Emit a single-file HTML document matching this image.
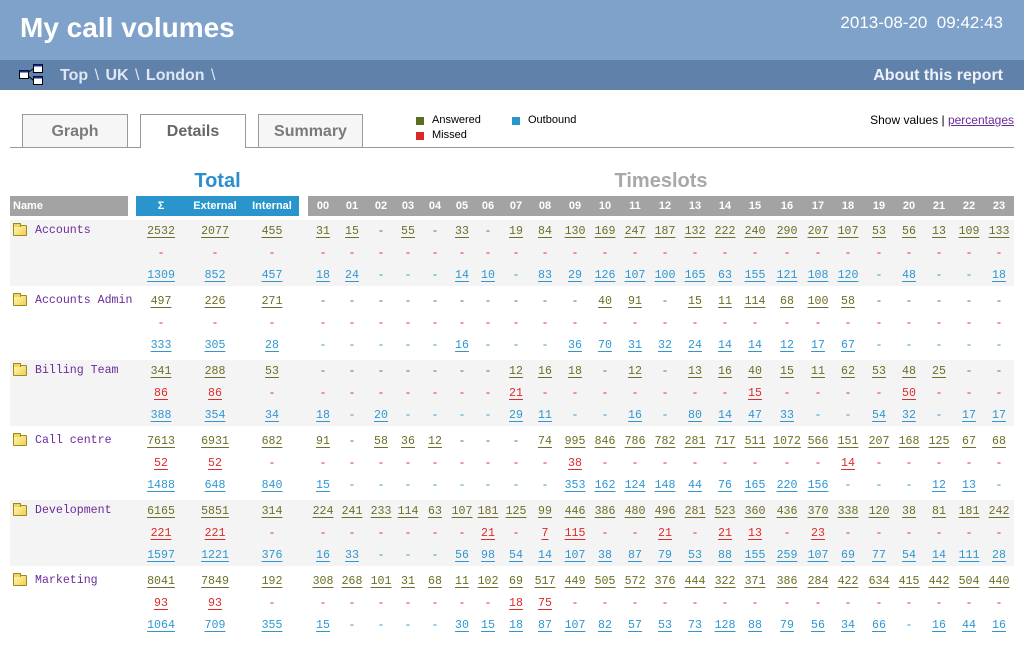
<!DOCTYPE html>
<html><head><meta charset="utf-8">
<style>
*{margin:0;padding:0;box-sizing:border-box}
body{width:1024px;height:650px;background:#fff;position:relative;overflow:hidden;font-family:"Liberation Sans",Arial,sans-serif}
.a{position:absolute}
.top{left:0;top:0;width:1024px;height:60px;background:#7fa2cb}
.nav{left:0;top:60px;width:1024px;height:30px;background:#5f81aa}
.tab{position:absolute;top:114px;height:33px;border:1px solid #999;border-bottom:none;background:#f6f6f6;font-weight:bold;font-size:16px;color:#7a7a7a;text-align:center;line-height:33px}
.c{position:absolute;width:44px;text-align:center;font-family:"Liberation Mono","Courier New",monospace;font-size:11.6px;line-height:16px;height:16px}
.c u{text-decoration:underline;text-underline-offset:3px;text-decoration-thickness:1px}
.an{color:#6e6e28}.mi{color:#dd2b2b}.ou{color:#2f97cf}
.h{position:absolute;top:196px;height:20px;color:#fff;font-weight:bold;font-size:11px;line-height:20px}
.hl{position:absolute;width:30px;text-align:center;color:#fff;font-weight:bold;font-size:11px;top:196px;line-height:20px}
.nm{position:absolute;font-family:"Liberation Mono","Courier New",monospace;font-size:11.6px;color:#6a2a9a;left:35px;line-height:16px}
.fold{position:absolute;left:13px;width:14px;height:11px;background:linear-gradient(135deg,#fff6b0,#f0d050);border:1px solid #a08a20;border-radius:1px}
.fold:before{content:"";position:absolute;left:-1px;top:-3px;width:6px;height:3px;background:#f0d860;border:1px solid #a08a20;border-bottom:none}
</style></head><body>
<div class="a top"></div>
<div class="a" style="left:20px;top:12px;color:#fff;font-weight:bold;font-size:28px">My call volumes</div>
<div class="a" style="right:21px;top:13px;color:#fff;font-size:17px;white-space:pre">2013-08-20  09:42:43</div>
<div class="a nav"></div>
<svg class="a" style="left:19px;top:63px" width="26" height="24">
<line x1="8" y1="10" x2="14" y2="6" stroke="#000"/><line x1="8" y1="12" x2="14" y2="17" stroke="#000"/>
<rect x="0.5" y="7.5" width="9" height="8" fill="#fff" stroke="#000"/><rect x="0.5" y="7.5" width="9" height="2" fill="#1a2a8a"/>
<rect x="14.5" y="1.5" width="9" height="8" fill="#fff" stroke="#000"/><rect x="14.5" y="1.5" width="9" height="2" fill="#1a2a8a"/>
<rect x="14.5" y="13.5" width="9" height="8" fill="#fff" stroke="#000"/><rect x="14.5" y="13.5" width="9" height="2" fill="#1a2a8a"/>
</svg>
<div class="a" style="left:60px;top:67px;color:#dfe7f3;font-weight:bold;font-size:16px;word-spacing:2px">Top <span style="font-weight:normal">\</span> UK <span style="font-weight:normal">\</span> London <span style="font-weight:normal">\</span></div>
<div class="a" style="right:21px;top:67px;color:#eef2f8;font-weight:bold;font-size:16px">About this report</div>

<div class="a" style="left:10px;top:147px;width:1004px;height:1px;background:#999"></div>
<div class="tab" style="left:22px;width:106px">Graph</div>
<div class="tab" style="left:140px;width:106px;height:34px;background:#fff;color:#666">Details</div>
<div class="tab" style="left:258px;width:105px">Summary</div>

<div class="a" style="left:416px;top:117px;width:8px;height:8px;background:#5a6e1e"></div>
<div class="a" style="left:432px;top:114px;font-size:11px">Answered</div>
<div class="a" style="left:416px;top:132px;width:8px;height:8px;background:#d82828"></div>
<div class="a" style="left:432px;top:129px;font-size:11px">Missed</div>
<div class="a" style="left:512px;top:117px;width:8px;height:8px;background:#2a95cc"></div>
<div class="a" style="left:528px;top:114px;font-size:11px">Outbound</div>
<div class="a" style="right:10px;top:113px;font-size:12px">Show values | <span style="color:#6a2a9a;text-decoration:underline">percentages</span></div>

<div class="a" style="left:136px;top:170px;width:163px;text-align:center;color:#2a8fcc;font-weight:bold;font-size:20px">Total</div>
<div class="a" style="left:308px;top:170px;width:706px;text-align:center;color:#a8a8a8;font-weight:bold;font-size:20px">Timeslots</div>

<div class="h" style="left:10px;width:118px;background:#a3a3a3;padding-left:3px">Name</div>
<div class="h" style="left:136px;width:163px;background:#2a95cc"></div>
<div class="h" style="left:308px;width:706px;background:#a3a3a3"></div>
<div id="root"></div>
<script>
var root=document.getElementById('root');
var tc=[323,352,381,408,435,462,488,516,545,575,605,635,665,695,725,755,787,818,848,879,909,939,969,999];
var tot=[161,215,272];
var hdr=['Σ','External','Internal'];
var html='';
for(var i=0;i<3;i++)html+='<div class="hl" style="left:'+(tot[i]-30)+'px;width:60px">'+hdr[i]+'</div>';
for(var i=0;i<24;i++)html+='<div class="hl" style="left:'+(tc[i]-15)+'px">'+(i<10?'0':'')+i+'</div>';
function p(s){return s.split(' ');}
var D=[
['Accounts','2532 2077 455','- - -','1309 852 457',
'31 15 - 55 - 33 - 19 84 130 169 247 187 132 222 240 290 207 107 53 56 13 109 133',
'- - - - - - - - - - - - - - - - - - - - - - - -',
'18 24 - - - 14 10 - 83 29 126 107 100 165 63 155 121 108 120 - 48 - - 18'],
['Accounts Admin','497 226 271','- - -','333 305 28',
'- - - - - - - - - - 40 91 - 15 11 114 68 100 58 - - - - -',
'- - - - - - - - - - - - - - - - - - - - - - - -',
'- - - - - 16 - - - 36 70 31 32 24 14 14 12 17 67 - - - - -'],
['Billing Team','341 288 53','86 86 -','388 354 34',
'- - - - - - - 12 16 18 - 12 - 13 16 40 15 11 62 53 48 25 - -',
'- - - - - - - 21 - - - - - - - 15 - - - - 50 - - -',
'18 - 20 - - - - 29 11 - - 16 - 80 14 47 33 - - 54 32 - 17 17'],
['Call centre','7613 6931 682','52 52 -','1488 648 840',
'91 - 58 36 12 - - - 74 995 846 786 782 281 717 511 1072 566 151 207 168 125 67 68',
'- - - - - - - - - 38 - - - - - - - - 14 - - - - -',
'15 - - - - - - - - 353 162 124 148 44 76 165 220 156 - - - 12 13 -'],
['Development','6165 5851 314','221 221 -','1597 1221 376',
'224 241 233 114 63 107 181 125 99 446 386 480 496 281 523 360 436 370 338 120 38 81 181 242',
'- - - - - - 21 - 7 115 - - 21 - 21 13 - 23 - - - - - -',
'16 33 - - - 56 98 54 14 107 38 87 79 53 88 155 259 107 69 77 54 14 111 28'],
['Marketing','8041 7849 192','93 93 -','1064 709 355',
'308 268 101 31 68 11 102 69 517 449 505 572 376 444 322 371 386 284 422 634 415 442 504 440',
'- - - - - - - 18 75 - - - - - - - - - - - - - - -',
'15 - - - - 30 15 18 87 107 82 57 53 73 128 88 79 56 34 66 - 16 44 16']
];
var cls=['an','mi','ou'];
function cell(x,y,v,k){return '<div class="c '+cls[k]+'" style="left:'+(x-22)+'px;top:'+(y-6)+'px">'+(v=='-'?'-':'<u>'+v+'</u>')+'</div>';}
for(var g=0;g<6;g++){
 var b=230+70*g, d=D[g];
 if(g%2==0)html+='<div class="a" style="left:10px;top:'+(b-10)+'px;width:1004px;height:66px;background:#f4f4f4"></div>';
 html+='<div class="fold" style="top:'+(b-5)+'px"></div><div class="nm" style="top:'+(b-7)+'px">'+d[0]+'</div>';
 for(var k=0;k<3;k++){
  var y=b+22*k, t=p(d[1+k]), s=p(d[4+k]);
  for(var i=0;i<3;i++)html+=cell(tot[i],y,t[i],k);
  for(var i=0;i<24;i++)html+=cell(tc[i],y,s[i],k);
 }
}
root.innerHTML=html;
</script>
</body></html>
